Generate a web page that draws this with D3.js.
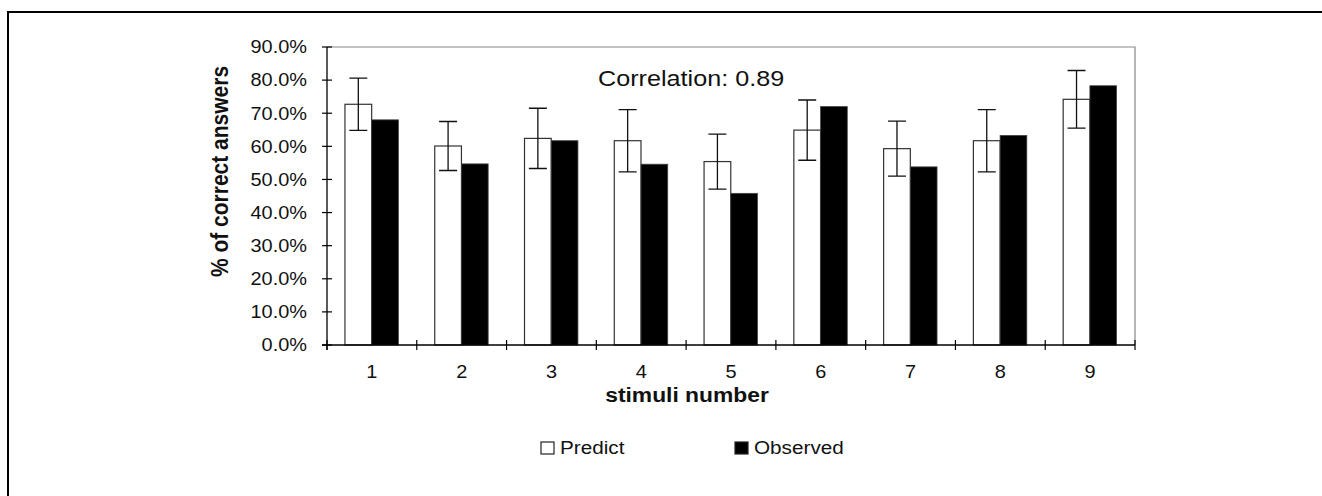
<!DOCTYPE html>
<html>
<head>
<meta charset="utf-8">
<script src="https://cdn.jsdelivr.net/npm/d3@7"></script>
<style>
  body { margin: 0; background: #fff; }
  text { font-family: "Liberation Sans", Arial, sans-serif; fill: #111; }
</style>
</head>
<body>
<div id="chart"></div>
<script>
// Values (percent of correct answers)
var stimuli = ["1", "2", "3", "4", "5", "6", "7", "8", "9"];
var predict = [72.7, 60.1, 62.4, 61.7, 55.4, 64.9, 59.3, 61.7, 74.2];
var observed = [68.0, 54.7, 61.7, 54.6, 45.8, 72.0, 53.8, 63.3, 78.3];
var predictErr = [7.9, 7.4, 9.1, 9.4, 8.3, 9.1, 8.3, 9.4, 8.7];
var yTicks = [0, 10, 20, 30, 40, 50, 60, 70, 80, 90];
var seriesNames = ["Predict", "Observed"];
var correlation = "Correlation: 0.89";

var width = 1322, height = 496;
// plot area
var plotLeft = 327, plotRight = 1135, plotTop = 47, plotBottom = 345;
// text in the reference is a bit wider than it is tall
var sx = 1.12;

var svg = d3.select("#chart").append("svg")
    .attr("width", width)
    .attr("height", height);

// outer frame (only top and left edges fall inside the picture)
svg.append("rect")
    .attr("x", 8).attr("y", 12)
    .attr("width", 1400).attr("height", 600)
    .attr("fill", "none")
    .attr("stroke", "#000")
    .attr("stroke-width", 2);

var x0 = d3.scaleBand()
    .domain(stimuli)
    .range([plotLeft, plotRight]);

var step = x0.step();
var x1 = d3.scaleBand()
    .domain(seriesNames)
    .range([step * 0.2, step * 0.795]);

var y = d3.scaleLinear()
    .domain([0, 90])
    .range([plotBottom, plotTop]);

// plot area frame, grey top and right
svg.append("path")
    .attr("d", "M" + plotLeft + "," + plotTop + "H" + plotRight + "V" + plotBottom)
    .attr("fill", "none")
    .attr("stroke", "#888")
    .attr("stroke-width", 1.2);

var groups = svg.selectAll("g.grp")
    .data(stimuli)
    .enter().append("g")
    .attr("class", "grp")
    .attr("transform", function (d) { return "translate(" + x0(d) + ",0)"; });

// predict bars
groups.append("rect")
    .attr("x", x1("Predict"))
    .attr("y", function (d, i) { return y(predict[i]); })
    .attr("width", x1.bandwidth())
    .attr("height", function (d, i) { return plotBottom - y(predict[i]); })
    .attr("fill", "#fff")
    .attr("stroke", "#333")
    .attr("stroke-width", 1.2);

// observed bars
groups.append("rect")
    .attr("x", x1("Observed"))
    .attr("y", function (d, i) { return y(observed[i]); })
    .attr("width", x1.bandwidth())
    .attr("height", function (d, i) { return plotBottom - y(observed[i]); })
    .attr("fill", "#000")
    .attr("stroke", "#444")
    .attr("stroke-width", 0.8);

// error bars on predict
var cx = x1("Predict") + x1.bandwidth() / 2;
var capW = 9;
groups.append("path")
    .attr("d", function (d, i) {
        var hi = y(predict[i] + predictErr[i]);
        var lo = y(predict[i] - predictErr[i]);
        return "M" + cx + "," + hi + "V" + lo +
            "M" + (cx - capW) + "," + hi + "H" + (cx + capW) +
            "M" + (cx - capW) + "," + lo + "H" + (cx + capW);
    })
    .attr("fill", "none")
    .attr("stroke", "#111")
    .attr("stroke-width", 1.3);

// y axis
var yAxis = svg.append("g");
yAxis.append("line")
    .attr("x1", plotLeft).attr("x2", plotLeft)
    .attr("y1", plotTop).attr("y2", plotBottom + 5)
    .attr("stroke", "#000").attr("stroke-width", 1.3);
yAxis.selectAll("line.tick")
    .data(yTicks)
    .enter().append("line")
    .attr("class", "tick")
    .attr("x1", plotLeft - 5).attr("x2", plotLeft + 5)
    .attr("y1", function (d) { return y(d); })
    .attr("y2", function (d) { return y(d); })
    .attr("stroke", "#000").attr("stroke-width", 1.2);
yAxis.selectAll("text")
    .data(yTicks)
    .enter().append("text")
    .attr("transform", function (d) { return "translate(307," + (y(d) + 6.3) + ") scale(" + sx + ",1)"; })
    .attr("text-anchor", "end")
    .style("font-size", "17.8px")
    .text(function (d) { return d3.format(".1f")(d) + "%"; });

// x axis
var xAxis = svg.append("g");
xAxis.append("line")
    .attr("x1", plotLeft - 5).attr("x2", plotRight)
    .attr("y1", plotBottom).attr("y2", plotBottom)
    .attr("stroke", "#000").attr("stroke-width", 1.3);
xAxis.selectAll("line.tick")
    .data(stimuli.concat(["end"]))
    .enter().append("line")
    .attr("class", "tick")
    .attr("x1", function (d, i) { return plotLeft + i * step; })
    .attr("x2", function (d, i) { return plotLeft + i * step; })
    .attr("y1", plotBottom - 5).attr("y2", plotBottom + 5)
    .attr("stroke", "#000").attr("stroke-width", 1.2);
xAxis.selectAll("text")
    .data(stimuli)
    .enter().append("text")
    .attr("transform", function (d) { return "translate(" + (x0(d) + step / 2) + ",378) scale(" + sx + ",1)"; })
    .attr("text-anchor", "middle")
    .style("font-size", "17.8px")
    .text(function (d) { return d; });

// axis titles
svg.append("text")
    .attr("transform", "translate(687,402) scale(" + sx + ",1)")
    .attr("text-anchor", "middle")
    .style("font-size", "20.4px")
    .style("font-weight", "bold")
    .text("stimuli number");

svg.append("text")
    .attr("transform", "translate(228,171.5) scale(" + sx + ",1) rotate(-90)")
    .attr("text-anchor", "middle")
    .style("font-size", "21px")
    .style("font-weight", "bold")
    .text("% of correct answers");

// correlation note
svg.append("text")
    .attr("transform", "translate(598,86) scale(" + sx + ",1)")
    .style("font-size", "22.5px")
    .text(correlation);

// legend
var legendX = [541, 735];
var legend = svg.selectAll("g.legend")
    .data(seriesNames)
    .enter().append("g")
    .attr("class", "legend")
    .attr("transform", function (d, i) { return "translate(" + legendX[i] + ",442)"; });
legend.append("rect")
    .attr("width", 13).attr("height", 12)
    .attr("fill", function (d, i) { return i === 0 ? "#fff" : "#000"; })
    .attr("stroke", "#222")
    .attr("stroke-width", 1.2);
legend.append("text")
    .attr("transform", "translate(19,12) scale(" + sx + ",1)")
    .style("font-size", "18.5px")
    .text(function (d) { return d; });
</script>
</body>
</html>
